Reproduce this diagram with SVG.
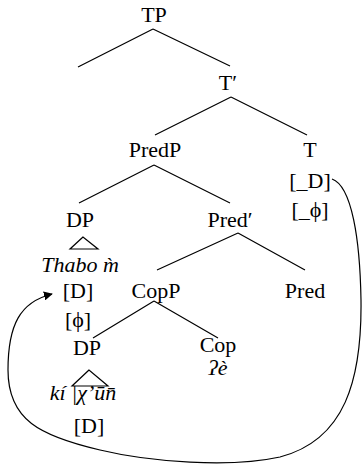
<svg xmlns="http://www.w3.org/2000/svg" width="362" height="473" viewBox="0 0 362 473">
<defs>
<marker id="ah" viewBox="0 0 10 10" refX="9" refY="5" markerWidth="9" markerHeight="9" markerUnits="userSpaceOnUse" orient="auto">
<path d="M0,0 L10,5 L0,10 z" fill="#000"/>
</marker>
</defs>
<rect width="362" height="473" fill="#fff"/>
<g id="connectors" stroke="#000" stroke-width="1.2" fill="none">
<path d="M153,29 L78,67 M153,29 L230,66"/>
<path d="M231,97 L155,135 M231,97 L307,135"/>
<path d="M154,165 L79,203 M154,165 L230,203"/>
<path d="M238,233 L157,270 M238,233 L305,270"/>
<path d="M154,301 L93,338 M154,301 L218,338"/>
<path d="M83,237 L70,249 L98,249 Z"/>
<path d="M89,370 L72,386 L108,386 Z"/>
<path marker-end="url(#ah)" d="M332,179 C352,186 360,240 361,300 C362,380 345,440 280,457 C230,468 150,462 100,450 C40,436 8,420 8,370 C8,325 20,302 52,294"/>
</g>
<g font-family="'Liberation Serif', 'DejaVu Serif', serif" font-size="22" fill="#000" text-anchor="middle">
<g id="TP"><text x="154" y="22">TP</text></g>
<g id="Tbar"><text x="228" y="90">T′</text></g>
<g id="PredP"><text x="155" y="157">PredP</text></g>
<g id="T"><text x="310" y="157">T</text><text x="310" y="188">[_D]</text><text x="310" y="217">[_ϕ]</text></g>
<g id="DP1"><text x="80" y="227">DP</text><text font-style="italic" x="80" y="272">Thabo m̀</text><text x="78" y="298">[D]</text><text x="78" y="327">[ϕ]</text></g>
<g id="Predbar"><text x="230" y="227">Pred′</text></g>
<g id="CopP"><text x="156" y="298">CopP</text></g>
<g id="Pred"><text x="305" y="298">Pred</text></g>
<g id="DP2"><text x="87" y="355">DP</text><text font-style="italic" x="83" y="400">kí |χ’ūn̄</text><text x="89" y="433">[D]</text></g>
<g id="Cop"><text x="218" y="352">Cop</text><text font-style="italic" x="218" y="375">ʔè</text></g>
</g>
</svg>
